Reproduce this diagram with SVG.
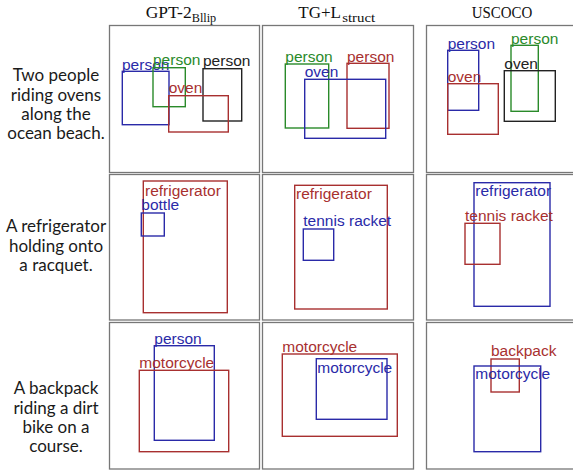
<svg xmlns="http://www.w3.org/2000/svg" width="573" height="470" viewBox="0 0 573 470">
<style>
.panel{fill:#fff;stroke:#777;stroke-width:1.3}
.bx{fill:none;stroke-width:1.4}
.lb{font-family:"Liberation Sans",Arial,sans-serif;font-size:15.5px}
.b{stroke:#2a2aa8}.tb{fill:#2a2aa8}
.r{stroke:#a83030}.tr{fill:#a83030}
.g{stroke:#2a8a2a}.tg{fill:#2a8a2a}
.k{stroke:#222}.tk{fill:#222}
.cap{font-family:Lato,"Open Sans",sans-serif;font-size:17px;fill:#1a1a1a;text-anchor:middle}
.hd{font-family:"Liberation Serif","Times New Roman",serif;font-size:17.5px;fill:#111}
.sub{font-size:13px}
</style>
<rect width="573" height="470" fill="#fff"/>
<g id="headers">
<text class="hd" x="145.7" y="18"><tspan textLength="46" lengthAdjust="spacingAndGlyphs">GPT-2</tspan><tspan class="sub" y="21.5" textLength="24.5" lengthAdjust="spacingAndGlyphs">Bllip</tspan></text>
<text class="hd" x="298.3" y="18"><tspan textLength="42.7" lengthAdjust="spacingAndGlyphs">TG+L</tspan><tspan class="sub" y="21.5" textLength="33" lengthAdjust="spacingAndGlyphs">struct</tspan></text>
<text class="hd" x="471.7" y="18" textLength="60.7" lengthAdjust="spacingAndGlyphs">USCOCO</text>
</g>
<g id="captions">
<text class="cap" x="56" y="81.3">Two people</text>
<text class="cap" x="56" y="100.6">riding ovens</text>
<text class="cap" x="56" y="119.9">along the</text>
<text class="cap" x="56" y="139.2">ocean beach.</text>
<text class="cap" x="56" y="232.3">A refrigerator</text>
<text class="cap" x="56" y="251.6">holding onto</text>
<text class="cap" x="56" y="270.9">a racquet.</text>
<text class="cap" x="56" y="394.3">A backpack</text>
<text class="cap" x="56" y="413.6">riding a dirt</text>
<text class="cap" x="56" y="432.9">bike on a</text>
<text class="cap" x="56" y="452.2">course.</text>
</g>
<g id="panels">
<rect class="panel" x="109.5" y="25.5" width="150" height="147"/>
<rect class="panel" x="262.5" y="25.5" width="151" height="147"/>
<rect class="panel" x="426.5" y="25.5" width="150" height="147"/>
<rect class="panel" x="109.5" y="174.5" width="150" height="145.5"/>
<rect class="panel" x="262.5" y="174.5" width="151" height="145.5"/>
<rect class="panel" x="426.5" y="174.5" width="150" height="145.5"/>
<rect class="panel" x="109.5" y="322.5" width="150" height="146.5"/>
<rect class="panel" x="262.5" y="322.5" width="151" height="146.5"/>
<rect class="panel" x="426.5" y="322.5" width="150" height="146.5"/>
</g>
<g id="r1c1">
<rect class="bx b" x="122.3" y="71.3" width="46.7" height="53.4"/>
<text class="lb tb" x="122" y="70">person</text>
<rect class="bx g" x="153" y="67.7" width="32.3" height="39"/>
<text class="lb tg" x="153" y="65">person</text>
<rect class="bx k" x="203" y="68.7" width="38.7" height="52.3"/>
<text class="lb tk" x="203" y="66.3">person</text>
<rect class="bx r" x="168.7" y="95.7" width="59.6" height="36.3"/>
<text class="lb tr" x="168.7" y="93.3">oven</text>
</g>
<g id="r1c2">
<rect class="bx g" x="285.3" y="64" width="43.4" height="64"/>
<text class="lb tg" x="285.3" y="62.3">person</text>
<rect class="bx r" x="347" y="63.3" width="42" height="65"/>
<text class="lb tr" x="347" y="62.3">person</text>
<rect class="bx b" x="304.7" y="79.3" width="81" height="59"/>
<text class="lb tb" x="304.7" y="77">oven</text>
</g>
<g id="r1c3">
<rect class="bx b" x="447.7" y="50.3" width="31" height="60"/>
<text class="lb tb" x="447.7" y="49">person</text>
<rect class="bx g" x="511" y="45.3" width="27.3" height="66"/>
<text class="lb tg" x="511" y="43.7">person</text>
<rect class="bx k" x="504.3" y="70.7" width="51" height="50.6"/>
<text class="lb tk" x="504.3" y="68.7">oven</text>
<rect class="bx r" x="447.7" y="83.7" width="50.6" height="50.6"/>
<text class="lb tr" x="447.7" y="82.3">oven</text>
</g>
<g id="r2c1">
<rect class="bx r" x="143.3" y="181" width="84" height="131.7"/>
<text class="lb tr" x="145" y="195.7">refrigerator</text>
<rect class="bx b" x="141.3" y="213" width="23" height="23"/>
<text class="lb tb" x="141.3" y="210">bottle</text>
</g>
<g id="r2c2">
<rect class="bx r" x="294.7" y="185.3" width="92.6" height="123.7"/>
<text class="lb tr" x="296" y="199.3">refrigerator</text>
<rect class="bx b" x="303.3" y="229" width="30.4" height="31.3"/>
<text class="lb tb" x="303.3" y="226">tennis racket</text>
</g>
<g id="r2c3">
<rect class="bx b" x="474" y="182.7" width="76" height="123.6"/>
<text class="lb tb" x="475.3" y="195.7">refrigerator</text>
<rect class="bx r" x="465" y="223.3" width="35" height="41"/>
<text class="lb tr" x="465" y="221">tennis racket</text>
</g>
<g id="r3c1">
<rect class="bx b" x="154.3" y="345.7" width="60" height="94.6"/>
<text class="lb tb" x="154.3" y="343.7">person</text>
<rect class="bx r" x="139.3" y="370.3" width="89.4" height="81.4"/>
<text class="lb tr" x="139.3" y="368.3">motorcycle</text>
</g>
<g id="r3c2">
<rect class="bx r" x="282.3" y="354" width="115" height="82.3"/>
<text class="lb tr" x="282.3" y="351.7">motorcycle</text>
<rect class="bx b" x="316.3" y="358.7" width="70.7" height="60.6"/>
<text class="lb tb" x="317.3" y="372.7">motorcycle</text>
</g>
<g id="r3c3">
<rect class="bx r" x="491" y="359" width="28.3" height="33"/>
<text class="lb tr" x="491" y="356.3">backpack</text>
<rect class="bx b" x="474" y="366" width="66.7" height="85.7"/>
<text class="lb tb" x="475.3" y="379">motorcycle</text>
</g>
<g id="connectors"/>
</svg>
